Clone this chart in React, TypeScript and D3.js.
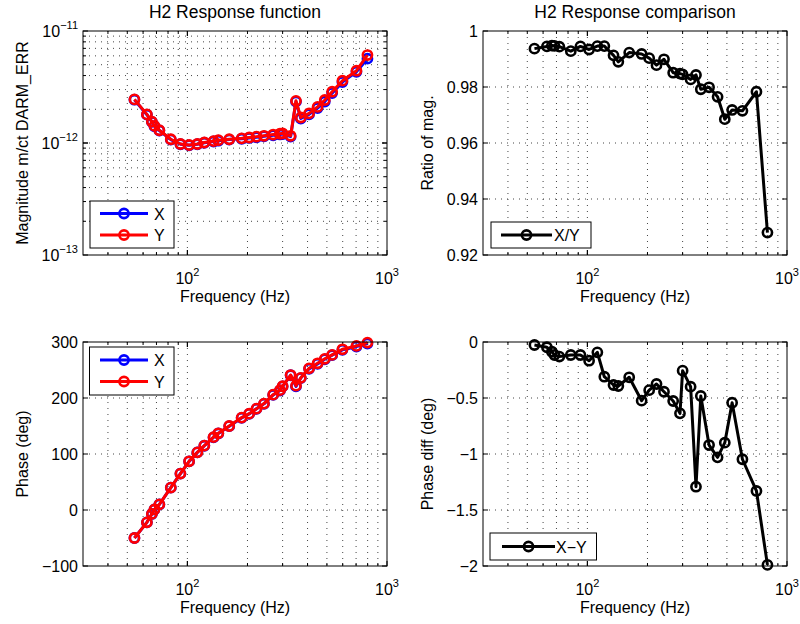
import React from 'react';
import * as d3 from 'd3';

// ---------- data ----------
const freqs = [54.3, 62.7, 66.4, 68.4, 72.4, 82.6, 92.3, 102, 112.2, 121.6, 135.2, 142.9, 162, 187, 204, 222, 242, 269, 291, 300, 329, 350, 370, 407, 449, 488, 531, 598, 703, 798];

const magX = [2.435e-12, 1.79e-12, 1.542e-12, 1.412e-12, 1.293e-12, 1.072e-12, 0.975e-12, 0.954e-12, 0.975e-12, 1.005e-12, 1.031e-12, 1.048e-12, 1.072e-12, 1.091e-12, 1.109e-12, 1.126e-12, 1.148e-12, 1.172e-12, 1.192e-12, 1.201e-12, 1.14e-12, 2.343e-12, 1.655e-12, 1.803e-12, 2.051e-12, 2.344e-12, 2.789e-12, 3.497e-12, 4.324e-12, 5.661e-12];
const magY = [2.45e-12, 1.8e-12, 1.55e-12, 1.42e-12, 1.3e-12, 1.08e-12, 0.98e-12, 0.96e-12, 0.98e-12, 1.01e-12, 1.04e-12, 1.06e-12, 1.08e-12, 1.1e-12, 1.12e-12, 1.14e-12, 1.16e-12, 1.19e-12, 1.21e-12, 1.22e-12, 1.16e-12, 2.38e-12, 1.69e-12, 1.84e-12, 2.1e-12, 2.42e-12, 2.87e-12, 3.6e-12, 4.42e-12, 6.1e-12];

const phaseX = [-50.03, -22.05, -7.09, 0.88, 9.87, 39.88, 64.88, 86.83, 102.91, 114.69, 129.62, 136.61, 149.69, 164.48, 171.57, 180.63, 189.56, 205.47, 213.36, 220.74, 240.6, 220.71, 235.52, 252.08, 260.97, 269.1, 276.46, 285.95, 291.67, 297.01];
const phaseY = [-50, -22, -7, 1, 10, 40, 65, 87, 103, 115, 130, 137, 150, 165, 172, 181, 190, 206, 214, 221, 241, 222, 236, 253, 262, 270, 277, 287, 293, 299];

const ratioXY = [0.9937, 0.9945, 0.9948, 0.9947, 0.9944, 0.9928, 0.9945, 0.9934, 0.9946, 0.9946, 0.9913, 0.989, 0.9923, 0.9918, 0.9903, 0.9878, 0.9899, 0.9851, 0.9848, 0.9845, 0.9827, 0.9843, 0.9792, 0.9799, 0.9765, 0.9685, 0.9718, 0.9715, 0.9783, 0.928];
const phaseDiff = [-0.027, -0.047, -0.087, -0.116, -0.13, -0.116, -0.116, -0.167, -0.092, -0.31, -0.384, -0.393, -0.315, -0.524, -0.43, -0.375, -0.444, -0.527, -0.637, -0.256, -0.399, -1.292, -0.482, -0.92, -1.03, -0.899, -0.542, -1.047, -1.33, -1.99];

const xDomain = [30, 1000];
const xTickExps = [2, 3];
const magTickExps = [-13, -12, -11];
const ratioTicks = [0.92, 0.94, 0.96, 0.98, 1];
const phaseTicks = [-100, 0, 100, 200, 300];
const diffTicks = [-2, -1.5, -1, -0.5, 0];

const titles = ['H2 Response function', 'H2 Response comparison'];
const xLabel = 'Frequency (Hz)';
const yLabels = ['Magnitude m/ct DARM_ERR', 'Ratio of mag.', 'Phase (deg)', 'Phase diff (deg)'];

// ---------- helpers ----------
const FONT = '"Liberation Sans", Arial, Helvetica, sans-serif';
const FS = 16;
const FS_TITLE = 17.5;
const MR = 4.6;
const MSW = 2.6;
const minus = (s: string) => s.replace('-', '\u2212');

type Series = { ys: number[]; color: string; name: string };
type LegendCfg = { x: number; y: number; w: number; h: number; lineX0: number; lineX1: number; textX: number; rowYs: number[] };

function logMinors(lo: number, hi: number): number[] {
  const out: number[] = [];
  for (let e = Math.floor(Math.log10(lo)); e <= Math.ceil(Math.log10(hi)); e++) {
    for (let m = 1; m < 10; m++) {
      const v = m * Math.pow(10, e);
      if (v >= lo * 0.999 && v <= hi * 1.001) out.push(v);
    }
  }
  return out;
}

interface PanelProps {
  left: number; right: number; top: number; bottom: number;
  yLog: boolean; yDomain: [number, number];
  yTickVals: number[]; yTickLabel: (v: number) => React.ReactNode;
  series: Series[]; legend: LegendCfg;
  title?: string; ylabel: string; ylabelX: number;
}

function Panel(p: PanelProps) {
  const x = d3.scaleLog().domain(xDomain).range([p.left, p.right]);
  const y = p.yLog
    ? d3.scaleLog().domain(p.yDomain).range([p.bottom, p.top])
    : d3.scaleLinear().domain(p.yDomain).range([p.bottom, p.top]);
  const xGrid = logMinors(xDomain[0], xDomain[1]).filter(v => v > xDomain[0] && v < xDomain[1]);
  const yGrid = p.yLog
    ? logMinors(p.yDomain[0], p.yDomain[1]).filter(v => v > p.yDomain[0] * 1.001 && v < p.yDomain[1] * 0.999)
    : p.yTickVals.filter(v => v > p.yDomain[0] && v < p.yDomain[1]);
  const xMajors = xTickExps.map(e => Math.pow(10, e));
  const isMajorLog = (v: number) => Math.abs(Math.log10(v) - Math.round(Math.log10(v))) < 1e-6;
  const line = d3.line<number>().x((_, i) => x(freqs[i])).y(d => y(d));
  const dash = '1 5';
  const gridColor = '#444';
  const cx = (p.left + p.right) / 2;
  const cy = (p.top + p.bottom) / 2;
  const clipId = `clip-${p.left}-${p.top}`;
  return (
    <g>
      <defs>
        <clipPath id={clipId}>
          <rect x={p.left - 8} y={p.top - 8} width={p.right - p.left + 16} height={p.bottom - p.top + 16} />
        </clipPath>
      </defs>
      <rect x={p.left} y={p.top} width={p.right - p.left} height={p.bottom - p.top} fill="#fff" />
      {/* grid */}
      {xGrid.map(v => (
        <line key={'gx' + v} x1={x(v)} x2={x(v)} y1={p.top} y2={p.bottom} stroke={gridColor} strokeWidth={1} strokeDasharray={dash} />
      ))}
      {yGrid.map(v => (
        <line key={'gy' + v} x1={p.left} x2={p.right} y1={y(v)} y2={y(v)} stroke={gridColor} strokeWidth={1} strokeDasharray={dash} />
      ))}
      {/* ticks */}
      {[...xGrid, ...xMajors].map(v => {
        const len = isMajorLog(v) ? 5 : 3;
        return (
          <g key={'tx' + v}>
            <line x1={x(v)} x2={x(v)} y1={p.bottom} y2={p.bottom - len} stroke="#000" />
            <line x1={x(v)} x2={x(v)} y1={p.top} y2={p.top + len} stroke="#000" />
          </g>
        );
      })}
      {(p.yLog ? [...yGrid, ...p.yTickVals] : p.yTickVals).map(v => {
        const len = !p.yLog || isMajorLog(v) ? 5 : 3;
        return (
          <g key={'ty' + v}>
            <line x1={p.left} x2={p.left + len} y1={y(v)} y2={y(v)} stroke="#000" />
            <line x1={p.right} x2={p.right - len} y1={y(v)} y2={y(v)} stroke="#000" />
          </g>
        );
      })}
      {/* data */}
      <g clipPath={`url(#${clipId})`}>
        {p.series.map(s => (
          <g key={s.name}>
            <path d={line(s.ys) || ''} fill="none" stroke={s.color} strokeWidth={3} strokeLinejoin="round" />
            {s.ys.map((v, i) => (
              <circle key={i} cx={x(freqs[i])} cy={y(v)} r={MR} fill="none" stroke={s.color} strokeWidth={MSW} />
            ))}
          </g>
        ))}
      </g>
      {/* frame */}
      <rect x={p.left} y={p.top} width={p.right - p.left} height={p.bottom - p.top} fill="none" stroke="#000" strokeWidth={1} />
      {/* x tick labels */}
      {xTickExps.map(e => (
        <text key={'xl' + e} x={x(Math.pow(10, e))} y={p.bottom + 28.5} textAnchor="middle" fontSize={FS} fontFamily={FONT}>
          <tspan>10</tspan><tspan dy={-8} fontSize={11}>{e}</tspan>
        </text>
      ))}
      {/* y tick labels */}
      {p.yTickVals.map(v => (
        <text key={'yl' + v} x={p.left - 5} y={y(v) + 6} textAnchor="end" fontSize={FS} fontFamily={FONT}>
          {p.yTickLabel(v)}
        </text>
      ))}
      {/* labels */}
      <text x={cx} y={p.bottom + 47} textAnchor="middle" fontSize={FS} fontFamily={FONT}>{xLabel}</text>
      <text transform={`translate(${p.ylabelX},${cy}) rotate(-90)`} textAnchor="middle" fontSize={FS} fontFamily={FONT}>{p.ylabel}</text>
      {p.title && (
        <text x={cx} y={17.5} textAnchor="middle" fontSize={FS_TITLE} fontFamily={FONT}>{p.title}</text>
      )}
      {/* legend */}
      <rect x={p.legend.x} y={p.legend.y} width={p.legend.w} height={p.legend.h} fill="#fff" stroke="#000" strokeWidth={1} />
      {p.series.map((s, i) => {
        const ry = p.legend.rowYs[i];
        const mx = (p.legend.lineX0 + p.legend.lineX1) / 2;
        return (
          <g key={'lg' + s.name}>
            <line x1={p.legend.lineX0} x2={p.legend.lineX1} y1={ry} y2={ry} stroke={s.color} strokeWidth={3} />
            <circle cx={mx} cy={ry} r={MR} fill="none" stroke={s.color} strokeWidth={MSW} />
            <text x={p.legend.textX} y={ry + 6} fontSize={FS} fontFamily={FONT}>{s.name}</text>
          </g>
        );
      })}
    </g>
  );
}

export default function App() {
  const L = { left: 83, right: 387 };
  const R = { left: 483, right: 787 };
  const T = { top: 31, bottom: 255 };
  const B = { top: 342, bottom: 566 };
  const fmtLin = (v: number) => minus(String(v));
  const fmtLog = (v: number) => {
    const e = Math.round(Math.log10(v));
    return (
      <>
        <tspan>10</tspan><tspan dy={-8} fontSize={11}>{minus(String(e))}</tspan>
      </>
    );
  };
  return (
    <svg width={800} height={624} style={{ position: 'absolute', left: 0, top: 0, background: '#fff' }}>
      <rect x={0} y={0} width={800} height={624} fill="#fff" />
      <Panel {...L} {...T} yLog yDomain={[1e-13, 1e-11]} yTickVals={magTickExps.map(e => Math.pow(10, e))} yTickLabel={fmtLog}
        series={[{ ys: magX, color: '#0000ff', name: 'X' }, { ys: magY, color: '#ff0000', name: 'Y' }]}
        legend={{ x: 90, y: 201, w: 84, h: 47, lineX0: 100, lineX1: 148, textX: 154, rowYs: [213.5, 235] }}
        title={titles[0]} ylabel={yLabels[0]} ylabelX={28} />
      <Panel {...R} {...T} yLog={false} yDomain={[0.92, 1]} yTickVals={ratioTicks} yTickLabel={fmtLin}
        series={[{ ys: ratioXY, color: '#000000', name: 'X/Y' }]}
        legend={{ x: 491, y: 222, w: 100, h: 26, lineX0: 501, lineX1: 552, textX: 554, rowYs: [235] }}
        title={titles[1]} ylabel={yLabels[1]} ylabelX={433} />
      <Panel {...L} {...B} yLog={false} yDomain={[-100, 300]} yTickVals={phaseTicks} yTickLabel={fmtLin}
        series={[{ ys: phaseX, color: '#0000ff', name: 'X' }, { ys: phaseY, color: '#ff0000', name: 'Y' }]}
        legend={{ x: 89.5, y: 347, w: 84.5, h: 48, lineX0: 100, lineX1: 148, textX: 154, rowYs: [360, 381.5] }}
        ylabel={yLabels[2]} ylabelX={28} />
      <Panel {...R} {...B} yLog={false} yDomain={[-2, 0]} yTickVals={diffTicks} yTickLabel={fmtLin}
        series={[{ ys: phaseDiff, color: '#000000', name: 'X\u2212Y' }]}
        legend={{ x: 490, y: 533, w: 106.5, h: 27, lineX0: 502, lineX1: 555, textX: 556, rowYs: [546.5] }}
        ylabel={yLabels[3]} ylabelX={433} />
    </svg>
  );
}
